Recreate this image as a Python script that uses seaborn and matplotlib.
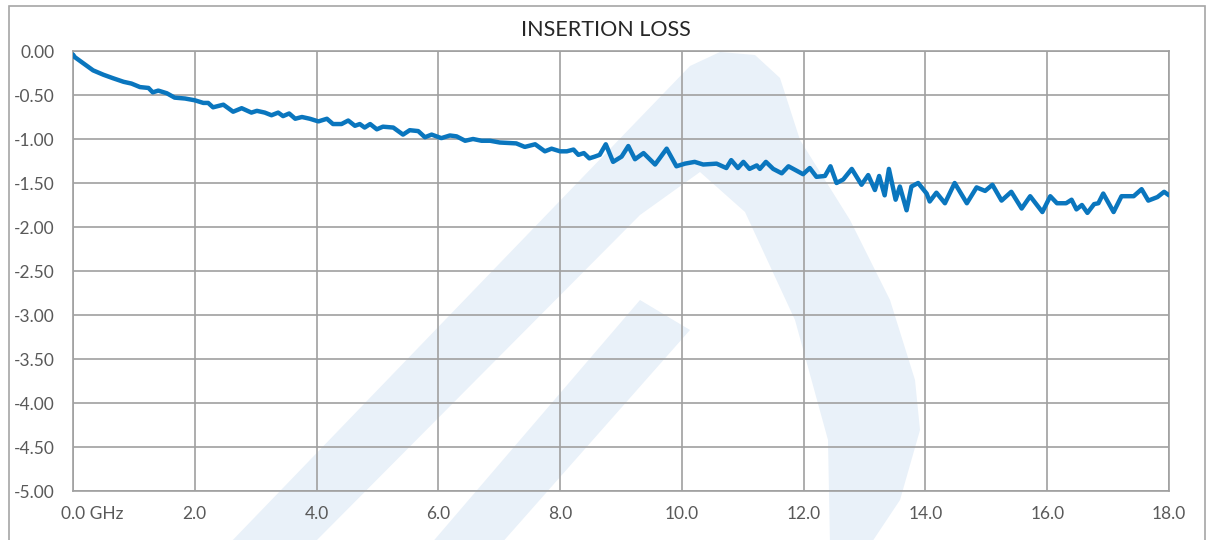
import matplotlib
matplotlib.use("Agg")
import matplotlib.pyplot as plt
import matplotlib.transforms as mtransforms
from matplotlib.patches import Rectangle, Polygon
import seaborn as sns
import pandas as pd

freq_ghz = [0.0, 0.03, 0.17, 0.33, 0.50, 0.66, 0.83, 0.96, 1.10, 1.24, 1.31, 1.40, 1.54, 1.67, 1.84,
            2.00, 2.14, 2.22, 2.30, 2.47, 2.63, 2.77, 2.93, 3.02, 3.15, 3.26, 3.37, 3.45, 3.55,
            3.65, 3.76, 3.89, 4.03, 4.17, 4.27, 4.41, 4.52, 4.63, 4.71, 4.79, 4.88, 4.99, 5.09,
            5.26, 5.42, 5.53, 5.67, 5.78, 5.89, 6.05, 6.19, 6.30, 6.44, 6.57, 6.71, 6.85, 7.01,
            7.28, 7.42, 7.59, 7.75, 7.86, 8.00, 8.11, 8.22, 8.30, 8.39, 8.48, 8.57, 8.65, 8.75,
            8.87, 9.01, 9.12, 9.23, 9.37, 9.56, 9.75, 9.91, 10.05, 10.21, 10.35, 10.57, 10.73,
            10.81, 10.92, 11.01, 11.11, 11.23, 11.28, 11.38, 11.50, 11.64, 11.75, 11.99, 12.10,
            12.21, 12.35, 12.44, 12.54, 12.65, 12.79, 12.95, 13.06, 13.17, 13.24, 13.33, 13.40,
            13.51, 13.58, 13.69, 13.77, 13.88, 14.02, 14.07, 14.18, 14.32, 14.48, 14.68, 14.84,
            14.98, 15.10, 15.25, 15.41, 15.58, 15.72, 15.92, 16.05, 16.16, 16.31, 16.40, 16.48,
            16.57, 16.66, 16.77, 16.84, 16.92, 17.09, 17.22, 17.42, 17.55, 17.66, 17.81, 17.92,
            18.00]
loss_db = [-0.04, -0.07, -0.14, -0.22, -0.27, -0.31, -0.35, -0.37, -0.41, -0.42, -0.47, -0.45,
           -0.48, -0.53, -0.54, -0.56, -0.59, -0.59, -0.64, -0.61, -0.69, -0.65, -0.70, -0.68,
           -0.70, -0.73, -0.70, -0.74, -0.71, -0.77, -0.75, -0.77, -0.80, -0.77, -0.83, -0.83,
           -0.79, -0.85, -0.83, -0.87, -0.83, -0.89, -0.86, -0.87, -0.95, -0.90, -0.91, -0.98,
           -0.95, -0.99, -0.96, -0.97, -1.02, -1.00, -1.02, -1.02, -1.04, -1.05, -1.09, -1.06,
           -1.14, -1.11, -1.14, -1.14, -1.12, -1.18, -1.16, -1.22, -1.20, -1.18, -1.06, -1.26,
           -1.20, -1.08, -1.23, -1.16, -1.29, -1.11, -1.31, -1.28, -1.26, -1.29, -1.28, -1.33,
           -1.24, -1.33, -1.26, -1.34, -1.30, -1.34, -1.26, -1.34, -1.39, -1.31, -1.40, -1.33,
           -1.43, -1.42, -1.31, -1.50, -1.46, -1.34, -1.52, -1.41, -1.58, -1.42, -1.64, -1.34,
           -1.69, -1.54, -1.81, -1.54, -1.50, -1.62, -1.71, -1.61, -1.73, -1.50, -1.73, -1.55,
           -1.59, -1.52, -1.70, -1.60, -1.79, -1.65, -1.83, -1.65, -1.73, -1.73, -1.69, -1.80,
           -1.75, -1.84, -1.74, -1.73, -1.62, -1.83, -1.65, -1.65, -1.57, -1.70, -1.66, -1.60,
           -1.64]

y_ticks = [0.0, -0.5, -1.0, -1.5, -2.0, -2.5, -3.0, -3.5, -4.0, -4.5, -5.0]
x_ticks = [0, 2, 4, 6, 8, 10, 12, 14, 16, 18]
x_labels = ["0.0 GHz", "2.0", "4.0", "6.0", "8.0", "10.0", "12.0", "14.0", "16.0", "18.0"]
title = "INSERTION LOSS"

sns.set_theme(style="white")
plt.rcParams['font.family'] = ['Lato', 'DejaVu Sans']

W, H = 1212, 540
fig = plt.figure(figsize=(W / 100, H / 100), dpi=100)
fig.patch.set_facecolor("white")


def px(pts):
    return [(x / W, 1 - y / H) for x, y in pts]


# faint background logo watermark (decorative)
wm = "#e9f1f9"
outer = [(228, 545), (690, 66), (720, 52), (755, 55), (780, 78), (800, 140), (850, 220),
         (890, 300), (915, 380), (920, 430), (900, 500), (870, 545)]
hole = [(312, 545), (640, 215), (700, 172), (745, 212), (795, 320), (828, 440), (830, 545)]
inner = [(430, 545), (500, 545), (690, 330), (640, 300)]
fig.add_artist(Polygon(px(outer), closed=True, transform=fig.transFigure,
                       facecolor=wm, edgecolor="none", zorder=-3))
fig.add_artist(Polygon(px(hole), closed=True, transform=fig.transFigure,
                       facecolor="white", edgecolor="none", zorder=-2))
fig.add_artist(Polygon(px(inner), closed=True, transform=fig.transFigure,
                       facecolor=wm, edgecolor="none", zorder=-1))

# outer chart border
fig.add_artist(Rectangle((9 / W, -0.02), (1205 - 9) / W, 1 - 6 / H + 0.02,
                         transform=fig.transFigure, fill=False,
                         edgecolor="#a6a6a6", linewidth=1.2))

ax = fig.add_axes([73 / W, 1 - 491 / H, (1169 - 73) / W, (491 - 51) / H])
ax.set_facecolor("none")

df = pd.DataFrame({"freq": freq_ghz, "loss": loss_db})
sns.lineplot(data=df, x="freq", y="loss", ax=ax, color="#0a76be", linewidth=3.2,
             sort=False, zorder=3)
for ln in ax.get_lines():
    ln.set_solid_joinstyle("round")
    ln.set_solid_capstyle("round")

ax.set_xlim(0, 18)
ax.set_ylim(-5, 0)
ax.set_xticks(x_ticks)
ax.set_xticklabels(x_labels)
ax.set_yticks(y_ticks)
ax.set_yticklabels([f"{v:.2f}" for v in y_ticks])
ax.set_xlabel("")
ax.set_ylabel("")
ax.grid(True, color="#a0a0a0", linewidth=1.2)
ax.set_axisbelow(True)
for s in ax.spines.values():
    s.set_visible(True)
    s.set_color("#a0a0a0")
    s.set_linewidth(1.2)
ax.tick_params(axis="both", length=0, labelsize=12.5, labelcolor="#595959")
ax.tick_params(axis="y", pad=13)
ax.tick_params(axis="x", pad=11)

lbl0 = ax.get_xticklabels()[0]
lbl0.set_transform(lbl0.get_transform() + mtransforms.ScaledTranslation(19 / 100, 0, fig.dpi_scale_trans))

fig.text(606 / W, 1 - 30 / H, title, ha="center", va="center",
         fontsize=15.5, color="#262626")

fig.savefig("out.png", dpi=100)
